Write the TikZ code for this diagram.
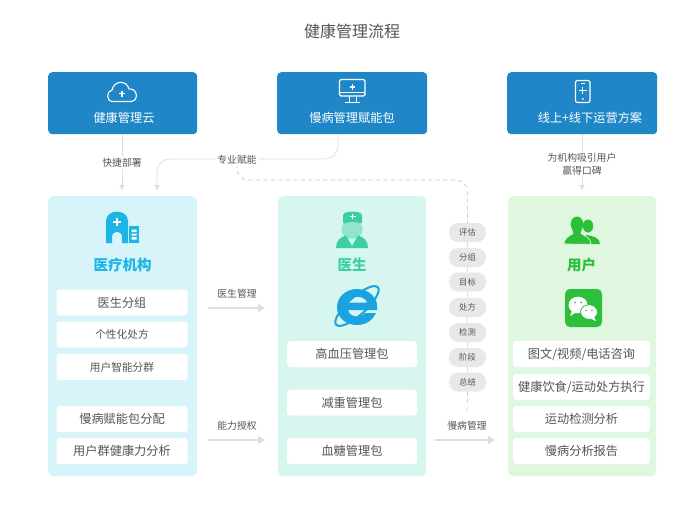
\documentclass[tikz,border=0pt]{standalone}
\usepackage{fontspec}
\setmainfont{Noto Sans CJK SC}
\usetikzlibrary{arrows.meta}
\definecolor{topblue}{HTML}{1F87C8}
\definecolor{paneA}{HTML}{D8F4FB}
\definecolor{paneB}{HTML}{D6F6EF}
\definecolor{paneC}{HTML}{DFF7DF}
\definecolor{cyanT}{HTML}{1DB5E6}
\definecolor{tealT}{HTML}{3ACFA6}
\definecolor{greenT}{HTML}{2CBF3A}
\definecolor{txt}{HTML}{555555}
\definecolor{conn}{HTML}{DEDEDE}
\definecolor{ieblue}{HTML}{1AA3E0}
\tikzset{
  x=1pt,y=-1pt,
  topbox/.style={draw=none,fill=topblue,rounded corners=4pt,minimum width=149pt,minimum height=62pt,inner sep=0pt,anchor=north west},
  panelbox/.style={draw=none,rounded corners=5pt,minimum width=149pt,minimum height=280pt,inner sep=0pt,anchor=north west},
  rowbox/.style={draw=none,fill=white,rounded corners=3pt,inner sep=0pt,anchor=center,text=txt,font=\fontsize{12.2}{14}\selectfont},
  rowA/.style={rowbox,minimum width=131pt,minimum height=26pt},
  rowB/.style={rowbox,minimum width=130pt,minimum height=26pt},
  rowC/.style={rowbox,minimum width=137pt,minimum height=26pt},
  toptext/.style={text=white,inner sep=0pt,font=\fontsize{12.2}{14}\selectfont},
  headtext/.style={inner sep=0pt,font=\fontsize{14.5}{16}\bfseries\selectfont},
  pill/.style={draw=none,fill=black!9,rounded corners=9pt,minimum width=37pt,minimum height=19pt,inner sep=0pt,text=txt,font=\fontsize{8.3}{10}\selectfont},
  lab/.style={fill=white,inner sep=1.5pt,text=txt,align=center,font=\fontsize{9.8}{13}\selectfont},
  labp/.style={inner sep=0pt,text=txt,font=\fontsize{9.8}{12}\selectfont},
  arrowline/.style={draw=conn,line width=0.8pt,-{Triangle[length=5pt,width=5pt,fill=conn]}},
  arrowwide/.style={draw=conn,line width=1.5pt,-{Triangle[length=7pt,width=8pt,fill=conn]}},
  softline/.style={draw=conn,line width=0.7pt},
  dashline/.style={draw=black!22,line width=0.7pt,dash pattern=on 4pt off 3.5pt},
  iconw/.style={draw=white,line width=1.1pt,fill=none},
}
\begin{document}
\begin{tikzpicture}
\useasboundingbox (0,0) rectangle (700,507);
\fill[white] (0,0) rectangle (700,507);

% panels
\node[panelbox,fill=paneA] (pa) at (48,196) {};
\node[panelbox,fill=paneB,minimum width=148pt] (pb) at (278,196) {};
\node[panelbox,fill=paneC,minimum width=148pt] (pc) at (508,196) {};

% top boxes
\node[topbox] (ta) at (48,72) {};
\node[topbox,minimum width=150pt] (tb) at (277,72) {};
\node[topbox,minimum width=150pt] (tc) at (507,72) {};

\node[inner sep=0pt,text=txt,font=\fontsize{16}{18}\selectfont] (title) at (352,31) {健康管理流程};
\node[toptext] (tat) at (124,118) {健康管理云};
\node[toptext] (tbt) at (352,118) {慢病管理赋能包};
\node[toptext] (tct) at (590,118) {线上+线下运营方案};

\node[headtext,text=cyanT] (ha) at (122.5,265) {医疗机构};
\node[headtext,text=tealT] (hb) at (352,265) {医生};
\node[headtext,text=greenT] (hc) at (581.5,265) {用户};

% rows
\node[rowA] (a1) at (122,302.5) {医生分组};
\node[rowA,font=\fontsize{10.7}{13}\selectfont] (a2) at (122,334.5) {个性化处方};
\node[rowA,font=\fontsize{10.7}{13}\selectfont] (a3) at (122,367) {用户智能分群};
\node[rowA] (a4) at (122,419) {慢病赋能包分配};
\node[rowA] (a5) at (122,451) {用户群健康力分析};
\node[rowB] (b1) at (352,354) {高血压管理包};
\node[rowB] (b2) at (352,402.5) {减重管理包};
\node[rowB] (b3) at (352,451) {血糖管理包};
\node[rowC] (c1) at (581.5,354) {图文/视频/电话咨询};
\node[rowC] (c2) at (581.5,387) {健康饮食/运动处方执行};
\node[rowC] (c3) at (581.5,419) {运动检测分析};
\node[rowC] (c4) at (581.5,451) {慢病分析报告};

% named free ends
\coordinate (f1) at (122,134);\coordinate (f2) at (122,190);
\coordinate (g1) at (582,134);\coordinate (g2) at (582,190);
\coordinate (h1) at (338,134);\coordinate (h2) at (157,190);
\coordinate (m1) at (208,308);\coordinate (m2) at (265,308);
\coordinate (n1) at (208,440);\coordinate (n2) at (265,440);
\coordinate (o1) at (435,440);\coordinate (o2) at (495,440);
\coordinate (pe) at (467,412);

% pills
\node[pill] (p1) at (467.5,232.5) {评估};
\node[pill] (p2) at (467.5,257.5) {分组};
\node[pill] (p3) at (467.5,282) {目标};
\node[pill] (p4) at (467.5,307.5) {处方};
\node[pill] (p5) at (467.5,332.5) {检测};
\node[pill] (p6) at (467.5,357.5) {阶段};
\node[pill] (p7) at (467.5,382) {总结};

% connectors
\draw[arrowline] (f1) -- (f2);
\draw[arrowline] (g1) -- (g2);
\draw[arrowwide] (m1) -- (m2);
\draw[arrowwide] (n1) -- (n2);
\draw[arrowwide] (o1) -- (o2);
\draw[arrowline,rounded corners=13pt] (h1) -- (338,159) -- (157,159) -- (h2);
\draw[dashline,rounded corners=11pt] (237,164) -- (237,180) -- (467,180) -- (p1.north);
\foreach \u/\v in {p1/p2,p2/p3,p3/p4,p4/p5,p5/p6,p6/p7}
  \draw[softline] (\u.south) -- (\v.north);
\draw[dashline] (p7.south) -- (pe);

% labels
\node[lab] (l1) at (122,163) {快捷部署};
\node[lab] (l2) at (237,160) {专业赋能};
\node[lab,inner sep=0pt,fill=white] (l3) at (582,164.5) {为机构吸引用户\\赢得口碑};
\node[labp] (l4) at (237,294) {医生管理};
\node[labp] (l5) at (237,426) {能力授权};
\node[labp] (l6) at (467,426) {慢病管理};

% cloud icon
\draw[iconw,line join=round] (113,101.5) .. controls (106,101.5) and (106,91.5) .. (112,90)
  .. controls (114,80) and (127,80) .. (129,89)
  .. controls (138,88) and (139,101.5) .. (130.5,101.5) -- cycle;
\draw[white,line width=1.5pt] (119,93.5) -- (125,93.5) (122,90.5) -- (122,96.5);

% monitor icon
\draw[iconw,rounded corners=1.5pt] (339.5,79.5) rectangle (365,96);
\draw[white,line width=0.7pt] (339.5,92.5) -- (365,92.5);
\draw[white,line width=1.4pt] (349.5,87) -- (355,87) (352.3,84.2) -- (352.3,89.8);
\draw[white,line width=1pt] (349,96) -- (349,101.5) (356,96) -- (356,101.5) (345,102) -- (360,102);

% phone icon
\draw[iconw,rounded corners=2pt] (575.5,80.5) rectangle (590,102.5);
\draw[white,line width=1pt] (579,90.5) -- (586.5,90.5) (582.8,87) -- (582.8,94);
\fill[white] (582.8,99) circle (1pt);
\draw[white,line width=0.6pt] (581,83) -- (585,83);

% hospital icon
\fill[cyanT] (106,243) -- (106,221) .. controls (106,208.5) and (128,208.5) .. (128,221) -- (128,243) -- (122,243) -- (122,237)
  .. controls (122,230) and (112,230) .. (112,237) -- (112,243) -- cycle;
\draw[white,line width=2pt] (113,222) -- (121,222) (117,218) -- (117,226);
\fill[cyanT] (128.5,226) rectangle (139,242.5);
\fill[white] (131.5,229.5) rectangle (136.5,232) (131.5,233.5) rectangle (136.5,235.5) (131.5,237) rectangle (136.5,239.5);

% nurse icon
\fill[tealT!55!white] (352,229) ellipse (10.5 and 10);
\fill[tealT,rounded corners=1.5pt] (343,214) .. controls (348,211) and (357,211) .. (362,214) -- (362,224) .. controls (356,221.5) and (349,221.5) .. (343,224) -- cycle;
\draw[white,line width=1.3pt] (349.5,216.5) -- (355.5,216.5) (352.5,213.8) -- (352.5,219.2);
\fill[tealT] (336,248) .. controls (336,241) and (340,237) .. (346,235.5) -- (352,246) -- (358,235.5)
  .. controls (364,237) and (368,241) .. (368,248) -- cycle;

% IE logo
\draw[ieblue,line width=2pt,rotate around={42:(357,306)}] (357,306) ellipse (28 and 9);
\fill[ieblue,even odd rule] (357,289) .. controls (345,289) and (337,298) .. (337,307)
  .. controls (337,318) and (346,325) .. (357,325) .. controls (366,325) and (373,320) .. (376,313)
  -- (365,313) .. controls (361,318) and (350,318) .. (348,310) -- (377,310)
  .. controls (379,298) and (369,289) .. (357,289) -- cycle
  (348,302.5) .. controls (350,295) and (365,295) .. (367,302.5) -- cycle;

% people icon
\fill[greenT] (588,226) ellipse (5.2 and 6.5);
\fill[greenT] (586,235) .. controls (594,236) and (600,238) .. (600,244) -- (585,244) -- cycle;
\fill[greenT] (577,224) ellipse (6.2 and 7.5);
\fill[greenT,draw=paneC,line width=0.7pt] (564,244) .. controls (564,238) and (569,236) .. (574,233) -- (580,233) .. controls (585,236) and (591,238) .. (591,244.3) -- cycle;
\fill[greenT] (570.5,224) -- (583.5,224) -- (580,235) -- (574,235) -- cycle;

% wechat icon
\fill[greenT,rounded corners=5pt] (565,289) rectangle (602,327);
\fill[white] (578,305) ellipse (9.5 and 8.3);
\fill[white] (572,311) -- (570,316) -- (576,312.5) -- cycle;
\fill[greenT] (575,302.5) circle (1pt) (581,302.5) circle (1pt);
\fill[white,draw=greenT,line width=0.8pt] (589,312) ellipse (8.5 and 7.3);
\fill[white] (594,317) -- (596,321) -- (590.5,318.5) -- cycle;
\fill[greenT] (586,310.5) circle (0.9pt) (592,310.5) circle (0.9pt);
\end{tikzpicture}
\end{document}
